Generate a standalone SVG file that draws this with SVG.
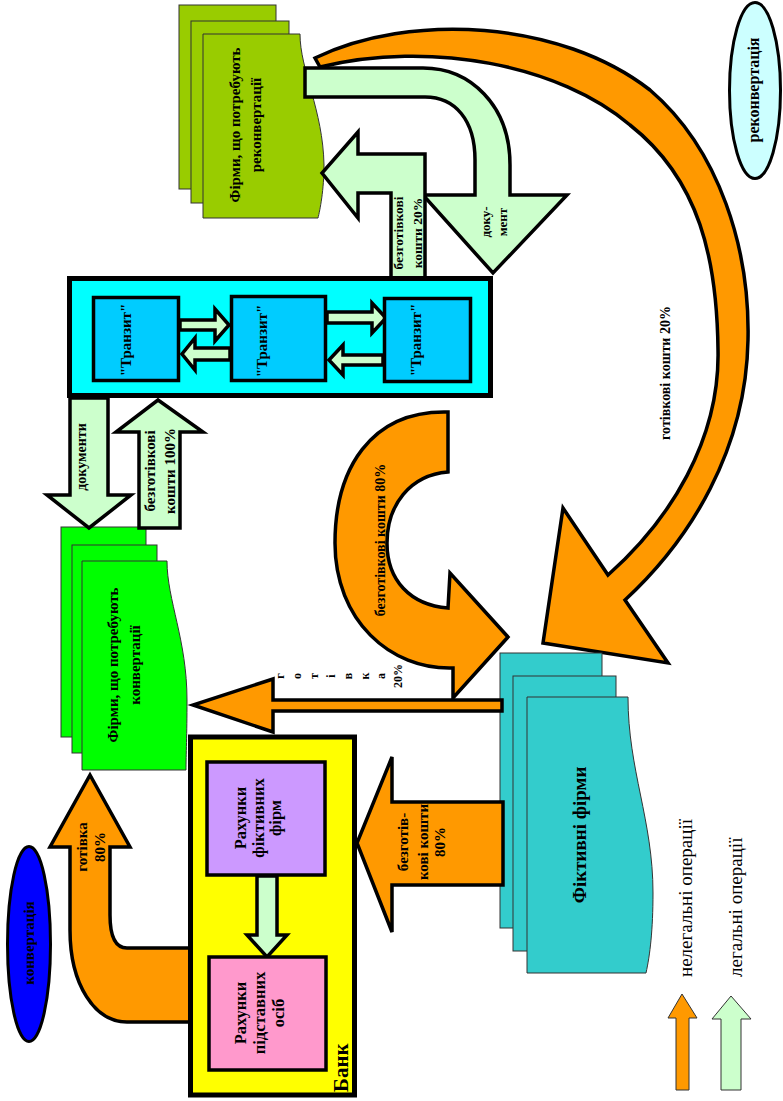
<svg xmlns="http://www.w3.org/2000/svg" width="783" height="1101" viewBox="0 0 783 1101">
<style>
.sheet{stroke:#333;stroke-width:1}
.g1{fill:#99CC00}
.g2{fill:#00FF00}
.cy{fill:#33CCCC}
.or{fill:#FF9900;stroke:#000;stroke-width:3.5;stroke-linejoin:miter}
.lg{fill:#CCFFCC;stroke:#000;stroke-width:3.5;stroke-linejoin:miter}
.box{stroke:#000;stroke-width:3.5}
.leg{stroke:#333;stroke-width:1}
text{font-family:"Liberation Serif","Times New Roman",serif;fill:#000}
.b{font-weight:bold}
</style>
<rect width="783" height="1101" fill="#fff"/>

<g id="firms-reconversion">
<rect class="sheet g1" x="179" y="5" width="97" height="184"/>
<rect class="sheet g1" x="191" y="21" width="98" height="182"/>
<path class="sheet g1" d="M203,34 L300,34 C300,70 323,110 324,165 C324,190 320,210 318,218 L203,218 Z"/>
<text class="b" font-size="15" text-anchor="middle" transform="translate(240,125) rotate(-90)"><tspan x="0" y="0">Фірми, що потребують</tspan><tspan x="0" y="21">реконвертації</tspan></text>
</g>

<g id="reconversion">
<ellipse cx="755" cy="90.5" rx="25.5" ry="88" fill="#CCFFFF" stroke="#000" stroke-width="3"/>
<text class="b" font-size="16" text-anchor="middle" transform="translate(759,90) rotate(-90)">реконвертація</text>
</g>

<g id="conversion">
<ellipse cx="29" cy="944" rx="21.5" ry="97.5" fill="#0000FF" stroke="#000" stroke-width="3"/>
<text class="b" font-size="15" text-anchor="middle" transform="translate(34,943) rotate(-90)">конвертація</text>
</g>

<g id="connectors-top">
<path class="or" d="M315,58 C410,12 560,20 650,90 C720,150 750,250 748,340 C746,450 690,540 625,600 L668,663 L543,643 L563,508 L608,575 C670,520 720,440 718,350 C717,260 700,180 630,125 C560,65 430,40 320,67 Z"/>
<text class="b" font-size="14" text-anchor="middle" transform="translate(670,373) rotate(-90)">готівкові кошти 20%</text>
<path class="lg" d="M305,68 L423,68 C470,68 510,105 510,165 L510,195 L567,195 L493,273 L423,195 L475,195 L475,160 C475,120 455,97 425,97 L305,97 Z"/>
<text class="b" font-size="13" text-anchor="middle" transform="translate(490,222) rotate(-90)"><tspan x="0" y="0">доку-</tspan><tspan x="0" y="17">мент</tspan></text>
<polygon class="lg" points="391,278 391,193 358,193 358,218 322,173 358,132 358,154 425,154 425,278"/>
<text class="b" font-size="13.5" text-anchor="middle" transform="translate(403,233) rotate(-90)"><tspan x="0" y="0">безготівкові</tspan><tspan x="0" y="19">кошти 20%</tspan></text>
</g>

<g id="transit">
<rect x="69.5" y="278.5" width="421" height="117" fill="#00FFFF" stroke="#000" stroke-width="5"/>
<polygon class="lg" points="180,320 215,320 215,309 229,325 215,341 215,330 180,330"/>
<polygon class="lg" points="230,348 195,348 195,338 182,354 195,370 195,360 230,360"/>
<polygon class="lg" points="327,312 372,312 372,303 386,318 372,333 372,323 327,323"/>
<polygon class="lg" points="383,355 343,355 343,345 329,360 343,375 343,365 383,365"/>
<g id="transit1">
<rect class="box" x="93.5" y="297.5" width="85" height="83" fill="#00CCFF"/>
<text class="b" font-size="15" text-anchor="middle" transform="translate(131,340) rotate(-90)">"Транзит"</text>
</g>
<g id="transit2">
<rect class="box" x="231.5" y="296.5" width="94" height="84" fill="#00CCFF"/>
<text class="b" font-size="15" text-anchor="middle" transform="translate(267,341) rotate(-90)">"Транзит"</text>
</g>
<g id="transit3">
<rect class="box" x="384.5" y="298.5" width="86" height="83" fill="#00CCFF"/>
<text class="b" font-size="15" text-anchor="middle" transform="translate(421,340) rotate(-90)">"Транзит"</text>
</g>
</g>

<g id="firms-conversion">
<rect class="sheet g2" x="61" y="527" width="85" height="210"/>
<rect class="sheet g2" x="72" y="545" width="85" height="208"/>
<path class="sheet g2" d="M82,561 L167,561 C167,600 187,640 187,700 C187,735 186,755 186,770 L82,770 Z"/>
<text class="b" font-size="15" text-anchor="middle" transform="translate(118,665) rotate(-90)"><tspan x="0" y="0">Фірми, що потребують</tspan><tspan x="0" y="22">конвертації</tspan></text>
</g>

<g id="connectors-mid">
<polygon class="lg" points="70,398 108,398 108,495 131,495 89,528 47,495 70,495"/>
<text class="b" font-size="14" text-anchor="middle" transform="translate(86,457) rotate(-90)">документи</text>
<polygon class="lg" points="139,528 139,432 116,432 158,400 203,432 180,432 180,528"/>
<text class="b" font-size="15" text-anchor="middle" transform="translate(155,471) rotate(-90)"><tspan x="0" y="0">безготівкові</tspan><tspan x="0" y="20">кошти 100%</tspan></text>
</g>

<g id="fictitious-firms">
<rect class="sheet cy" x="500" y="653" width="102" height="275"/>
<rect class="sheet cy" x="513" y="676" width="103" height="275"/>
<path class="sheet cy" d="M527,697 L628,697 C628,770 653,820 653,893 C653,930 650,955 646,973 L527,973 Z"/>
<text class="b" font-size="19" text-anchor="middle" transform="translate(586,835) rotate(-90)">Фіктивні фірми</text>
</g>

<g id="connectors-low">
<path class="or" d="M448,412 C370,410 335,470 335,543 C335,620 390,670 453,668 L453,698 L508,637 L450,573 L448,608 C410,605 387,580 387,543 C387,505 410,475 448,472 Z"/>
<text class="b" font-size="14" text-anchor="middle" transform="translate(385,540) rotate(-90)">безготівкові кошти 80%</text>
<polygon class="or" points="502,700 273,700 273,679 193,705 273,732 273,711 502,711"/>
<text class="b" font-size="12" text-anchor="middle" transform="translate(284,676) rotate(-90)"><tspan x="0" y="0">г</tspan><tspan x="0" y="16.9">о</tspan><tspan x="0" y="33.8">т</tspan><tspan x="0" y="50.7">і</tspan><tspan x="0" y="67.6">в</tspan><tspan x="0" y="84.5">к</tspan><tspan x="0" y="101.4">а</tspan><tspan x="0" y="118.3">20%</tspan></text>
<polygon class="or" points="503,802 392,802 392,757 357,843 392,932 392,885 503,885"/>
<text class="b" font-size="15" text-anchor="middle" transform="translate(408,842) rotate(-90)"><tspan x="0" y="0">безготів-</tspan><tspan x="0" y="20">кові кошти</tspan><tspan x="0" y="37">80%</tspan></text>
<path class="or" d="M192,1022 L127,1022 C95,1022 70,985 70,930 L70,847 L50,847 L90,775 L130,847 L110,847 L110,915 C110,935 115,948 127,948 L192,948 Z"/>
<text class="b" font-size="15" text-anchor="middle" transform="translate(87,847) rotate(-90)"><tspan x="0" y="0">готівка</tspan><tspan x="0" y="18">80%</tspan></text>
</g>

<g id="bank">
<rect x="190.5" y="737" width="164" height="358" fill="#FFFF00" stroke="#000" stroke-width="5"/>
<text class="b" font-size="21" transform="translate(348,1092) rotate(-90)">Банк</text>
<g id="fictitious-accounts">
<rect class="box" x="207" y="762" width="118" height="113" fill="#CC99FF"/>
<text class="b" font-size="16.5" text-anchor="middle" transform="translate(246,818) rotate(-90)"><tspan x="0" y="0">Рахунки</tspan><tspan x="0" y="17.5">фіктивних</tspan><tspan x="0" y="35">фірм</tspan></text>
</g>
<polygon class="lg" points="257,876 277,876 277,935 287,935 267,957 247,935 257,935"/>
<g id="nominee-accounts">
<rect class="box" x="209" y="957" width="117" height="113" fill="#FF99CC"/>
<text class="b" font-size="16.5" text-anchor="middle" transform="translate(246,1013) rotate(-90)"><tspan x="0" y="0">Рахунки</tspan><tspan x="0" y="19">підставних</tspan><tspan x="0" y="38">осіб</tspan></text>
</g>
</g>

<g id="legend">
<polygon class="leg" fill="#FF9900" points="676,1090 676,1018 668,1018 682,994 697,1018 689,1018 689,1090"/>
<text font-size="19" transform="translate(692,977) rotate(-90)">нелегальні операції</text>
<polygon class="leg" fill="#CCFFCC" points="721,1090 721,1019 712,1019 731,996 751,1019 741,1019 741,1090"/>
<text font-size="19" transform="translate(742,977) rotate(-90)">легальні операції</text>
</g>
</svg>
